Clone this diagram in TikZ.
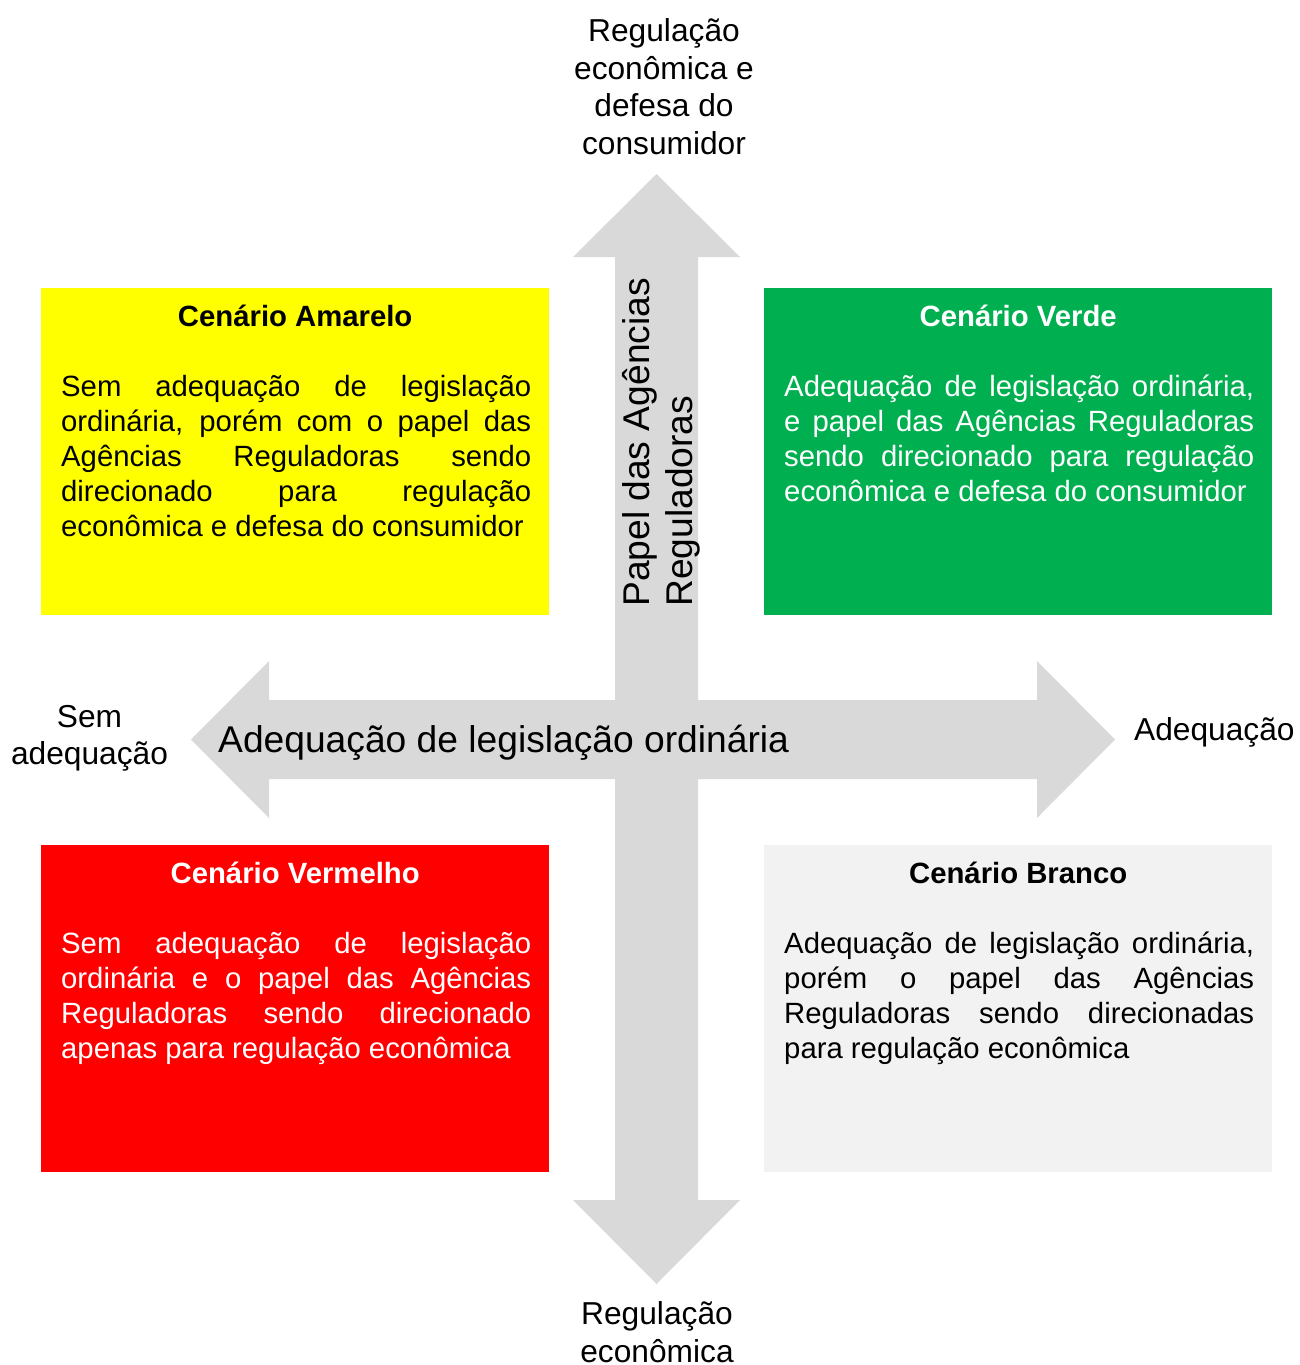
\documentclass[tikz,border=0pt]{standalone}
\usepackage{fontspec}
\setmainfont{Liberation Sans}
\usetikzlibrary{calc}

\definecolor{arrowgrey}{HTML}{D9D9D9}
\definecolor{scyellow}{HTML}{FFFF00}
\definecolor{scgreen}{HTML}{00B050}
\definecolor{scred}{HTML}{FF0000}
\definecolor{scwhite}{HTML}{F2F2F2}

% width of the justified body text inside each scenario box
\newlength\bodyw
\setlength\bodyw{470pt}
\newcommand\fullline[1]{\makebox[\bodyw][s]{#1}}

\begin{document}
% multi-line nodes are placed by the baseline of their last line (anchor=base)
\begin{tikzpicture}[x=1pt,y=-1pt,
  axislabel/.style={font=\fontsize{31.7}{37.5}\selectfont, align=center, inner sep=0pt},
  axistitle/.style={font=\fontsize{37.2}{43}\selectfont, inner sep=0pt},
  scenario/.style={minimum width=508pt, minimum height=327pt, inner sep=0pt,
    anchor=north west, draw=none},
  sctitle/.style={font=\bfseries\fontsize{29.3}{35}\selectfont, inner sep=0pt, anchor=base},
  scbody/.style={font=\fontsize{29.3}{35}\selectfont, align=left, inner sep=0pt, anchor=base west},
]
\useasboundingbox (0,0) rectangle (1299,1365);

% vertical double arrow: role of the regulatory agencies
\fill[arrowgrey] (656.5,174) -- (740,257) -- (698,257) -- (698,1200) -- (740,1200)
  -- (656.5,1284) -- (573,1200) -- (615,1200) -- (615,257) -- (573,257) -- cycle;
% horizontal double arrow: adequacy of ordinary legislation
\fill[arrowgrey] (191,739.5) -- (269,661) -- (269,700) -- (1037,700) -- (1037,661)
  -- (1115,739.5) -- (1037,818) -- (1037,779) -- (269,779) -- (269,818) -- cycle;

% axis texts
\node[axistitle, anchor=base west] (htitle) at (218,752) {Adequação de legislação ordinária};
\node[axistitle, align=left, rotate=90, anchor=base west] (vtitle) at (692,607)
  {Papel das Agências\\Reguladoras};

\node[axislabel, anchor=base] (top) at (664,154) {Regulação\\econômica e\\defesa do\\consumidor};
\node[axislabel, anchor=base] (bottom) at (657,1362) {Regulação\\econômica};
\node[axislabel, anchor=base, font=\fontsize{31.7}{37}\selectfont] (left) at (89.5,764) {Sem\\adequação};
\node[axislabel, anchor=base west] (right) at (1134,740) {Adequação};

% scenario boxes
\node[scenario, fill=scyellow] (amarelo) at (41,288) {};
\node[scenario, fill=scgreen] (verde) at (764,288) {};
\node[scenario, fill=scred] (vermelho) at (41,845) {};
\node[scenario, fill=scwhite] (branco) at (764,845) {};

\node[sctitle] (amarelo-t) at ($(amarelo.north)+(0,38)$) {Cenário Amarelo};
\node[scbody] (amarelo-b) at ($(amarelo.north west)+(20,248)$) {%
  \fullline{Sem adequação de legislação}\\
  \fullline{ordinária, porém com o papel das}\\
  \fullline{Agências Reguladoras sendo}\\
  \fullline{direcionado para regulação}\\
  econômica e defesa do consumidor};

\node[sctitle, text=white] (verde-t) at ($(verde.north)+(0,38)$) {Cenário Verde};
\node[scbody, text=white] (verde-b) at ($(verde.north west)+(20,213)$) {%
  \fullline{Adequação de legislação ordinária,}\\
  \fullline{e papel das Agências Reguladoras}\\
  \fullline{sendo direcionado para regulação}\\
  econômica e defesa do consumidor};

\node[sctitle, text=white] (vermelho-t) at ($(vermelho.north)+(0,38)$) {Cenário Vermelho};
\node[scbody, text=white] (vermelho-b) at ($(vermelho.north west)+(20,213)$) {%
  \fullline{Sem adequação de legislação}\\
  \fullline{ordinária e o papel das Agências}\\
  \fullline{Reguladoras sendo direcionado}\\
  apenas para regulação econômica};

\node[sctitle] (branco-t) at ($(branco.north)+(0,38)$) {Cenário Branco};
\node[scbody] (branco-b) at ($(branco.north west)+(20,213)$) {%
  \fullline{Adequação de legislação ordinária,}\\
  \fullline{porém o papel das Agências}\\
  \fullline{Reguladoras sendo direcionadas}\\
  para regulação econômica};
\end{tikzpicture}
\end{document}
